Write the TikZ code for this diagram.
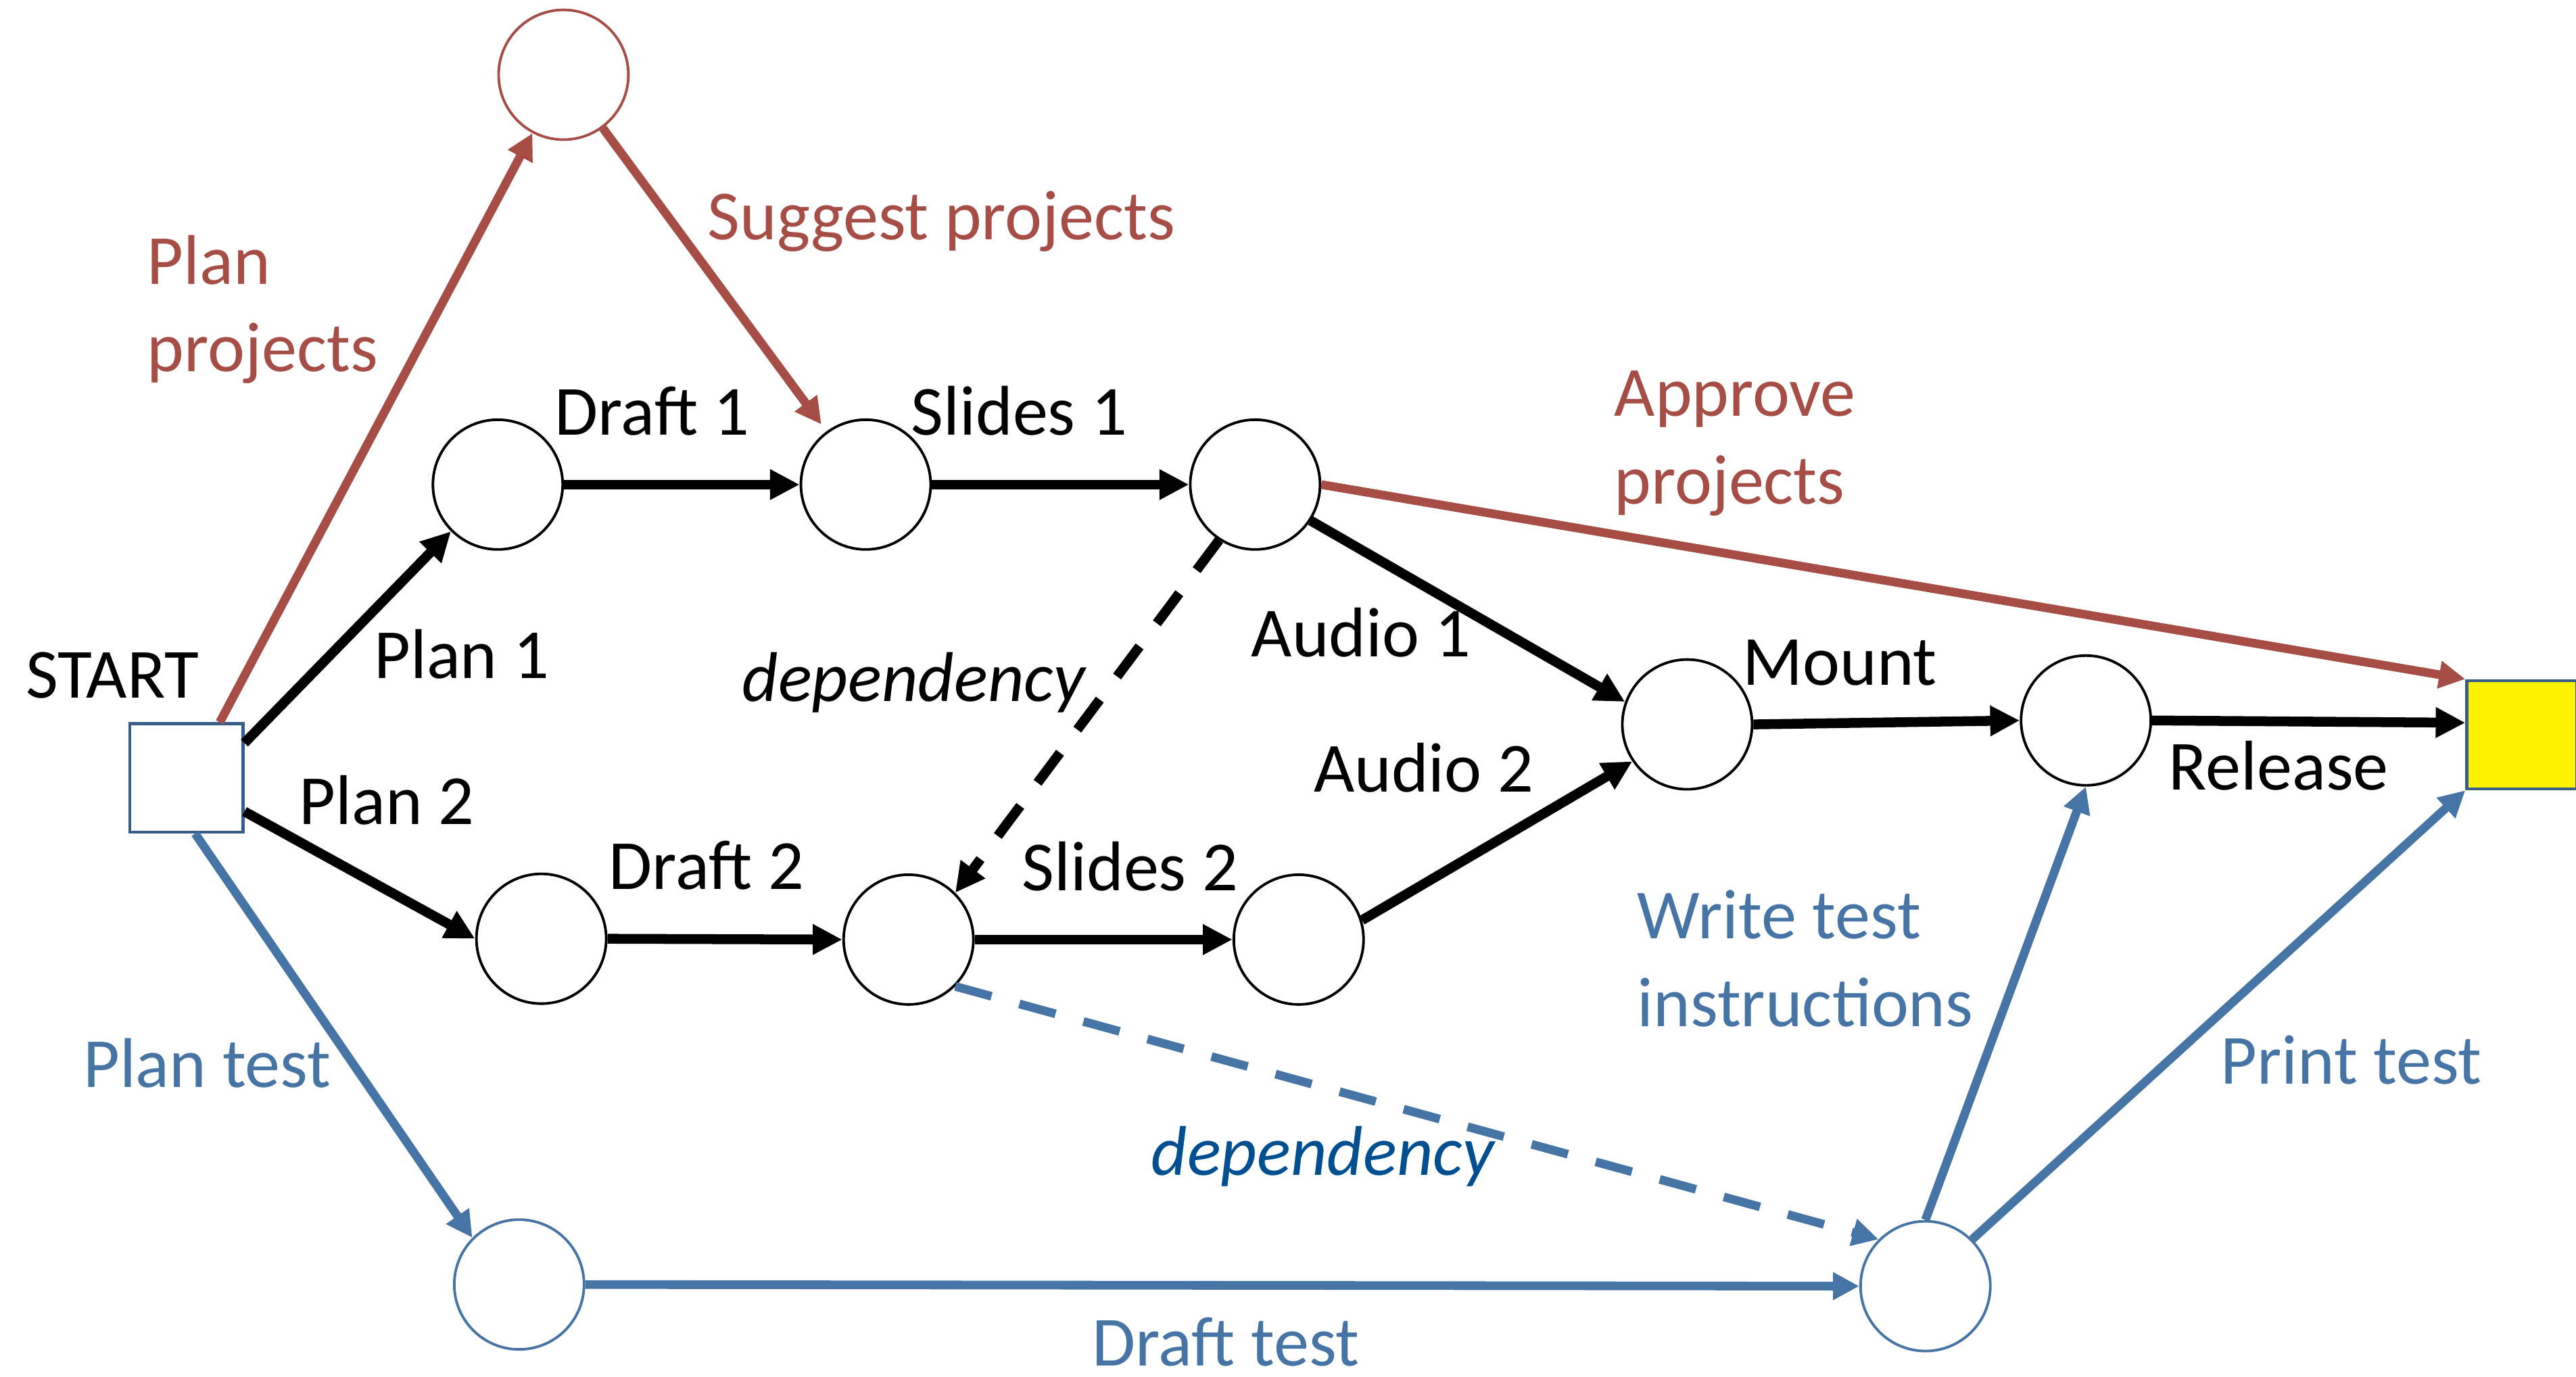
\documentclass[tikz,border=0pt]{standalone}
\usepackage{fontspec}
\setmainfont{Carlito}
\usetikzlibrary{arrows.meta}

\definecolor{projred}{RGB}{166,77,70}
\definecolor{testblue}{RGB}{70,117,165}
\definecolor{depblue}{RGB}{0,79,145}
\definecolor{boxblue}{RGB}{56,93,138}

\tikzset{
  event/.style={circle,draw,line width=0.45pt,minimum size=7.9mm,inner sep=0pt},
  lbl/.style={inner sep=0pt,anchor=base west,align=left},
  work/.style={black,line width=1.7pt,-{Triangle[length=1.8mm,width=1.75mm]}},
  projwork/.style={projred,line width=1.5pt,-{Triangle[length=1.6mm,width=1.6mm]}},
  testwork/.style={testblue,line width=1.5pt,-{Triangle[length=1.6mm,width=1.6mm]}},
  dep/.style={dash pattern=on 6.5pt off 5pt}
}

\begin{document}
\begin{tikzpicture}[x=0.1mm,y=-0.1mm,every node/.style={font=\fontsize{12.2}{15.2}\selectfont}]
        \useasboundingbox (0,0) rectangle (1568,838);

        % events
        \node[draw=boxblue,line width=0.5pt,minimum width=6.9mm,minimum height=6.6mm] (S) at (113.4,473.6) {};
        \node[event,draw=projred] (P) at (343,45.5) {};
        \node[event] (A) at (303,295) {};
        \node[event] (B) at (527,295) {};
        \node[event] (C) at (764,295) {};
        \node[event] (D) at (1027,441) {};
        \node[event] (E) at (1269.7,438.6) {};
        \node[draw=boxblue,fill=yellow,line width=0.5pt,minimum width=6.7mm,minimum height=6.6mm] (T) at (1535,447.3) {};
        \node[event] (F) at (329.5,571.5) {};
        \node[event] (G) at (553,572) {};
        \node[event] (H) at (790.5,572) {};
        \node[event,draw=testblue] (I) at (316,782) {};
        \node[event,draw=testblue] (J) at (1172,783) {};

        % labels
        \node[lbl] (lstart) at (15,425) {START};
        \node[lbl,text=projred] (lplanproj) at (89,226.3) {Plan\\projects};
        \node[lbl,text=projred] (lsuggest) at (430,146) {Suggest projects};
        \node[lbl,text=projred] (lapprove) at (982,306.6) {Approve\\projects};
        \node[lbl] (ldraft1) at (337,265) {Draft 1};
        \node[lbl] (lslides1) at (554,265) {Slides 1};
        \node[lbl] (lplan1) at (227,413) {Plan 1};
        \node[lbl] (lplan2) at (181.6,502) {Plan 2};
        \node[lbl] (ldep1) at (451,427) {\itshape dependency};
        \node[lbl] (laudio1) at (761,399.6) {Audio 1};
        \node[lbl] (laudio2) at (799,482) {Audio 2};
        \node[lbl] (lmount) at (1060,417) {Mount};
        \node[lbl] (lrelease) at (1319.5,481) {Release};
        \node[lbl] (ldraft2) at (370,541.5) {Draft 2};
        \node[lbl] (lslides2) at (621.5,542) {Slides 2};
        \node[lbl,text=testblue] (lwrite) at (996,625) {Write test\\instructions};
        \node[lbl,text=testblue] (lplantest) at (50,662) {Plan test};
        \node[lbl,text=testblue] (lprint) at (1351,660) {Print test};
        \node[lbl,text=depblue] (ldep2) at (700,715.6) {\itshape dependency};
        \node[lbl,text=testblue] (ldrafttest) at (664,831.5) {Draft test};

        % project approval (red)
        \path[projwork]
        (S.59) edge (P)
        (P) edge[shorten >=1.5pt] (B)
        (C.east) edge (T.north west);

        % production (black)
        \path[work]
        (S.31) edge (A.south west)
        (S.-30) edge (F.west)
        (A.east) edge (B.west)
        (B.east) edge (C.west)
        (C.-33) edge (D.160)
        (F.east) edge (G.west)
        (G.east) edge (H.west)
        (H.17) edge (D.214)
        (D.east) edge (E.west)
        (E.east) edge (T.168);
        \path[work,dep] (C.237) edge (G.45);

        % test (blue)
        \path[testwork]
        (S.-81) edge (I.135)
        (I.east) edge (J.west)
        (J.north) edge (E.south)
        (J.45) edge (T.south west);
        \path[testwork,dep] (G.-45) edge (J.135);
    \end{tikzpicture}
\end{document}
